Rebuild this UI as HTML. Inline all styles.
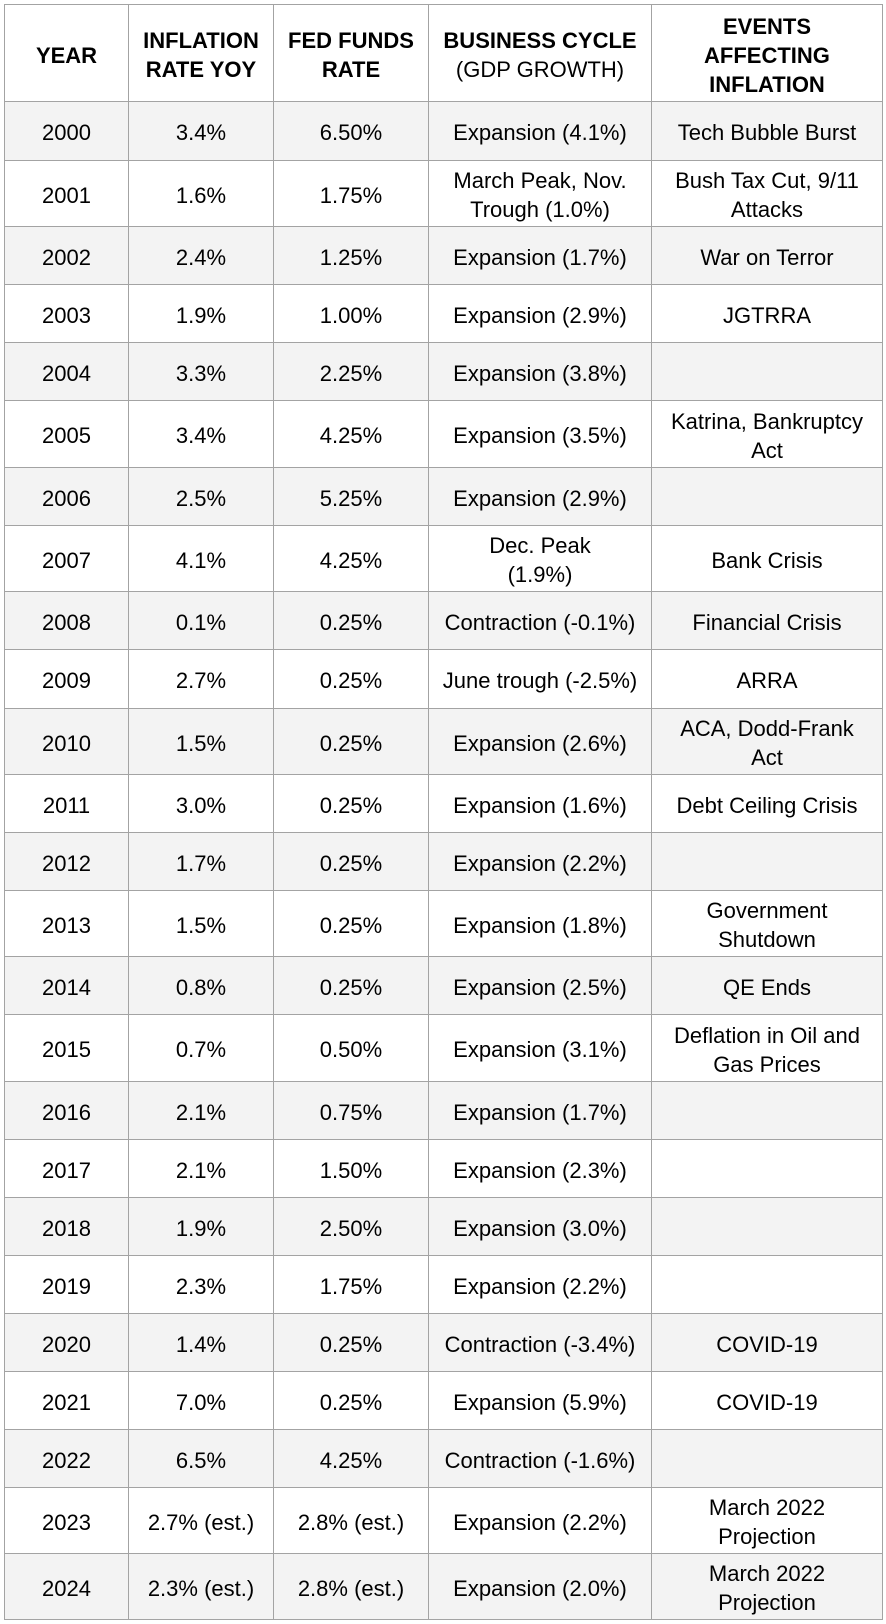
<!DOCTYPE html>
<html>
<head>
<meta charset="utf-8">
<style>
  html, body { margin:0; padding:0; background:#ffffff; }
  body { width:886px; height:1624px; position:relative; overflow:hidden;
         font-family:"Liberation Sans", Arial, sans-serif; color:#000; }
  .t { position:absolute; left:4px; top:4px; width:879px; }
  .r { position:absolute; left:0; width:879px; display:flex; box-sizing:border-box; }
  .r.g .c { background:#f3f3f3; }
  .c { box-sizing:border-box; border-top:1px solid #a3a3a3; border-left:1px solid #a3a3a3;
       display:flex; align-items:center; justify-content:center; text-align:center;
       font-size:22px; line-height:29px; white-space:nowrap; padding-top:3px; height:100%; }
  .c:nth-child(1){ width:124px; }
  .c:nth-child(2){ width:145px; }
  .c:nth-child(3){ width:155px; }
  .c:nth-child(4){ width:223px; }
  .c:nth-child(5){ width:232px; border-right:1px solid #a3a3a3; }
  .h .c { font-weight:bold; padding-top:4px; }
  .h .n { font-weight:normal; }
  .last .c { border-bottom:1px solid #a3a3a3; }
</style>
</head>
<body>
<div class="t">
  <div class="r h" style="top:0px;height:97px;">
    <div class="c">YEAR</div>
    <div class="c">INFLATION<br>RATE YOY</div>
    <div class="c">FED FUNDS<br>RATE</div>
    <div class="c"><span>BUSINESS CYCLE<br><span class="n">(GDP GROWTH)</span></span></div>
    <div class="c">EVENTS<br>AFFECTING<br>INFLATION</div>
  </div>
  <div class="r g" style="top:97px;height:59px;">
    <div class="c">2000</div><div class="c">3.4%</div><div class="c">6.50%</div><div class="c">Expansion (4.1%)</div><div class="c">Tech Bubble Burst</div>
  </div>
  <div class="r" style="top:156px;height:66px;">
    <div class="c">2001</div><div class="c">1.6%</div><div class="c">1.75%</div><div class="c">March Peak, Nov.<br>Trough (1.0%)</div><div class="c">Bush Tax Cut, 9/11<br>Attacks</div>
  </div>
  <div class="r g" style="top:222px;height:58px;">
    <div class="c">2002</div><div class="c">2.4%</div><div class="c">1.25%</div><div class="c">Expansion (1.7%)</div><div class="c">War on Terror</div>
  </div>
  <div class="r" style="top:280px;height:58px;">
    <div class="c">2003</div><div class="c">1.9%</div><div class="c">1.00%</div><div class="c">Expansion (2.9%)</div><div class="c">JGTRRA</div>
  </div>
  <div class="r g" style="top:338px;height:58px;">
    <div class="c">2004</div><div class="c">3.3%</div><div class="c">2.25%</div><div class="c">Expansion (3.8%)</div><div class="c"></div>
  </div>
  <div class="r" style="top:396px;height:67px;">
    <div class="c">2005</div><div class="c">3.4%</div><div class="c">4.25%</div><div class="c">Expansion (3.5%)</div><div class="c">Katrina, Bankruptcy<br>Act</div>
  </div>
  <div class="r g" style="top:463px;height:58px;">
    <div class="c">2006</div><div class="c">2.5%</div><div class="c">5.25%</div><div class="c">Expansion (2.9%)</div><div class="c"></div>
  </div>
  <div class="r" style="top:521px;height:66px;">
    <div class="c">2007</div><div class="c">4.1%</div><div class="c">4.25%</div><div class="c">Dec. Peak<br>(1.9%)</div><div class="c">Bank Crisis</div>
  </div>
  <div class="r g" style="top:587px;height:58px;">
    <div class="c">2008</div><div class="c">0.1%</div><div class="c">0.25%</div><div class="c">Contraction (-0.1%)</div><div class="c">Financial Crisis</div>
  </div>
  <div class="r" style="top:645px;height:59px;">
    <div class="c">2009</div><div class="c">2.7%</div><div class="c">0.25%</div><div class="c">June trough (-2.5%)</div><div class="c">ARRA</div>
  </div>
  <div class="r g" style="top:704px;height:66px;">
    <div class="c">2010</div><div class="c">1.5%</div><div class="c">0.25%</div><div class="c">Expansion (2.6%)</div><div class="c">ACA, Dodd-Frank<br>Act</div>
  </div>
  <div class="r" style="top:770px;height:58px;">
    <div class="c">2011</div><div class="c">3.0%</div><div class="c">0.25%</div><div class="c">Expansion (1.6%)</div><div class="c">Debt Ceiling Crisis</div>
  </div>
  <div class="r g" style="top:828px;height:58px;">
    <div class="c">2012</div><div class="c">1.7%</div><div class="c">0.25%</div><div class="c">Expansion (2.2%)</div><div class="c"></div>
  </div>
  <div class="r" style="top:886px;height:66px;">
    <div class="c">2013</div><div class="c">1.5%</div><div class="c">0.25%</div><div class="c">Expansion (1.8%)</div><div class="c">Government<br>Shutdown</div>
  </div>
  <div class="r g" style="top:952px;height:58px;">
    <div class="c">2014</div><div class="c">0.8%</div><div class="c">0.25%</div><div class="c">Expansion (2.5%)</div><div class="c">QE Ends</div>
  </div>
  <div class="r" style="top:1010px;height:67px;">
    <div class="c">2015</div><div class="c">0.7%</div><div class="c">0.50%</div><div class="c">Expansion (3.1%)</div><div class="c">Deflation in Oil and<br>Gas Prices</div>
  </div>
  <div class="r g" style="top:1077px;height:58px;">
    <div class="c">2016</div><div class="c">2.1%</div><div class="c">0.75%</div><div class="c">Expansion (1.7%)</div><div class="c"></div>
  </div>
  <div class="r" style="top:1135px;height:58px;">
    <div class="c">2017</div><div class="c">2.1%</div><div class="c">1.50%</div><div class="c">Expansion (2.3%)</div><div class="c"></div>
  </div>
  <div class="r g" style="top:1193px;height:58px;">
    <div class="c">2018</div><div class="c">1.9%</div><div class="c">2.50%</div><div class="c">Expansion (3.0%)</div><div class="c"></div>
  </div>
  <div class="r" style="top:1251px;height:58px;">
    <div class="c">2019</div><div class="c">2.3%</div><div class="c">1.75%</div><div class="c">Expansion (2.2%)</div><div class="c"></div>
  </div>
  <div class="r g" style="top:1309px;height:58px;">
    <div class="c">2020</div><div class="c">1.4%</div><div class="c">0.25%</div><div class="c">Contraction (-3.4%)</div><div class="c">COVID-19</div>
  </div>
  <div class="r" style="top:1367px;height:58px;">
    <div class="c">2021</div><div class="c">7.0%</div><div class="c">0.25%</div><div class="c">Expansion (5.9%)</div><div class="c">COVID-19</div>
  </div>
  <div class="r g" style="top:1425px;height:58px;">
    <div class="c">2022</div><div class="c">6.5%</div><div class="c">4.25%</div><div class="c">Contraction (-1.6%)</div><div class="c"></div>
  </div>
  <div class="r" style="top:1483px;height:66px;">
    <div class="c">2023</div><div class="c">2.7% (est.)</div><div class="c">2.8% (est.)</div><div class="c">Expansion (2.2%)</div><div class="c">March 2022<br>Projection</div>
  </div>
  <div class="r g last" style="top:1549px;height:67px;">
    <div class="c">2024</div><div class="c">2.3% (est.)</div><div class="c">2.8% (est.)</div><div class="c">Expansion (2.0%)</div><div class="c">March 2022<br>Projection</div>
  </div>
</div>
</body>
</html>
